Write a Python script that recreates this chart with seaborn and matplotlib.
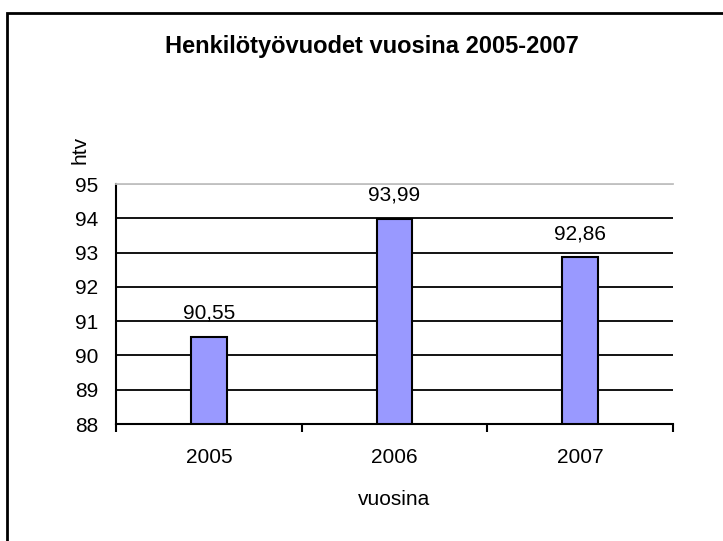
import matplotlib
matplotlib.use("Agg")
import matplotlib.pyplot as plt
import seaborn as sns
import pandas as pd
from matplotlib.patches import Rectangle

# Values
years = ["2005", "2006", "2007"]
htv = [90.55, 93.99, 92.86]
y_ticks = [88, 89, 90, 91, 92, 93, 94, 95]
title = "Henkilötyövuodet vuosina 2005-2007"

sns.set_style("white")
plt.rcParams['font.family'] = ['Liberation Sans', 'DejaVu Sans']

df = pd.DataFrame({'vuosi': years, 'htv': htv})

fig = plt.figure(figsize=(7.23, 5.41), dpi=100)
ax = fig.add_axes([116 / 723, 1 - 424 / 541, 557 / 723, 240 / 541])

sns.barplot(data=df, x='vuosi', y='htv', color='#9999FF', saturation=1,
            width=0.192, edgecolor='black', linewidth=1.5, ax=ax)

ax.set_xlim(-0.5, 2.5)
ax.set_ylim(88, 95)
ax.set_yticks(y_ticks)

# horizontal gridlines, top one grey like the plot-area border
ax.set_axisbelow(True)
ax.yaxis.grid(True, color='black', linewidth=1.3)
ax.get_ygridlines()[-1].set_color('#c0c0c0')

for side in ['left', 'bottom']:
    ax.spines[side].set_color('black')
    ax.spines[side].set_linewidth(1.5)
ax.spines['top'].set_color('#c0c0c0')
ax.spines['top'].set_linewidth(1.3)
ax.spines['right'].set_visible(False)

# tick marks between the categories
ax.set_xticks([-0.5, 0.5, 1.5, 2.5], minor=True)
ax.tick_params(axis='x', which='minor', bottom=True, length=6, width=1.5, direction='out', color='black')
ax.tick_params(axis='x', which='major', length=0, pad=17, labelsize=15, colors='black')
ax.tick_params(axis='y', length=0, pad=13, labelsize=15, colors='black')

ax.bar_label(ax.containers[0], labels=[f"{v:.2f}".replace('.', ',') for v in htv],
             padding=10, fontsize=15, color='black')

ax.set_xlabel('vuosina', fontsize=15, color='black', va='baseline')
ax.xaxis.set_label_coords(0.5, (424 - 505) / 240)
ax.set_ylabel('htv', fontsize=15, color='black', rotation=90, va='center', ha='center')
ax.yaxis.set_label_coords((80 - 116) / 557, (424 - 150) / 240)

fig.text(371.5 / 723, 1 - 53 / 541, title, ha='center', va='baseline',
         fontsize=17, fontweight='bold', color='black')

# outer chart border (runs off the right and bottom edges)
fig.add_artist(Rectangle((7 / 723, -0.1), 1.2, 1.1 - 13 / 541, transform=fig.transFigure,
                         fill=False, edgecolor='black', linewidth=2, clip_on=False))

fig.savefig('out.png', dpi=100)
